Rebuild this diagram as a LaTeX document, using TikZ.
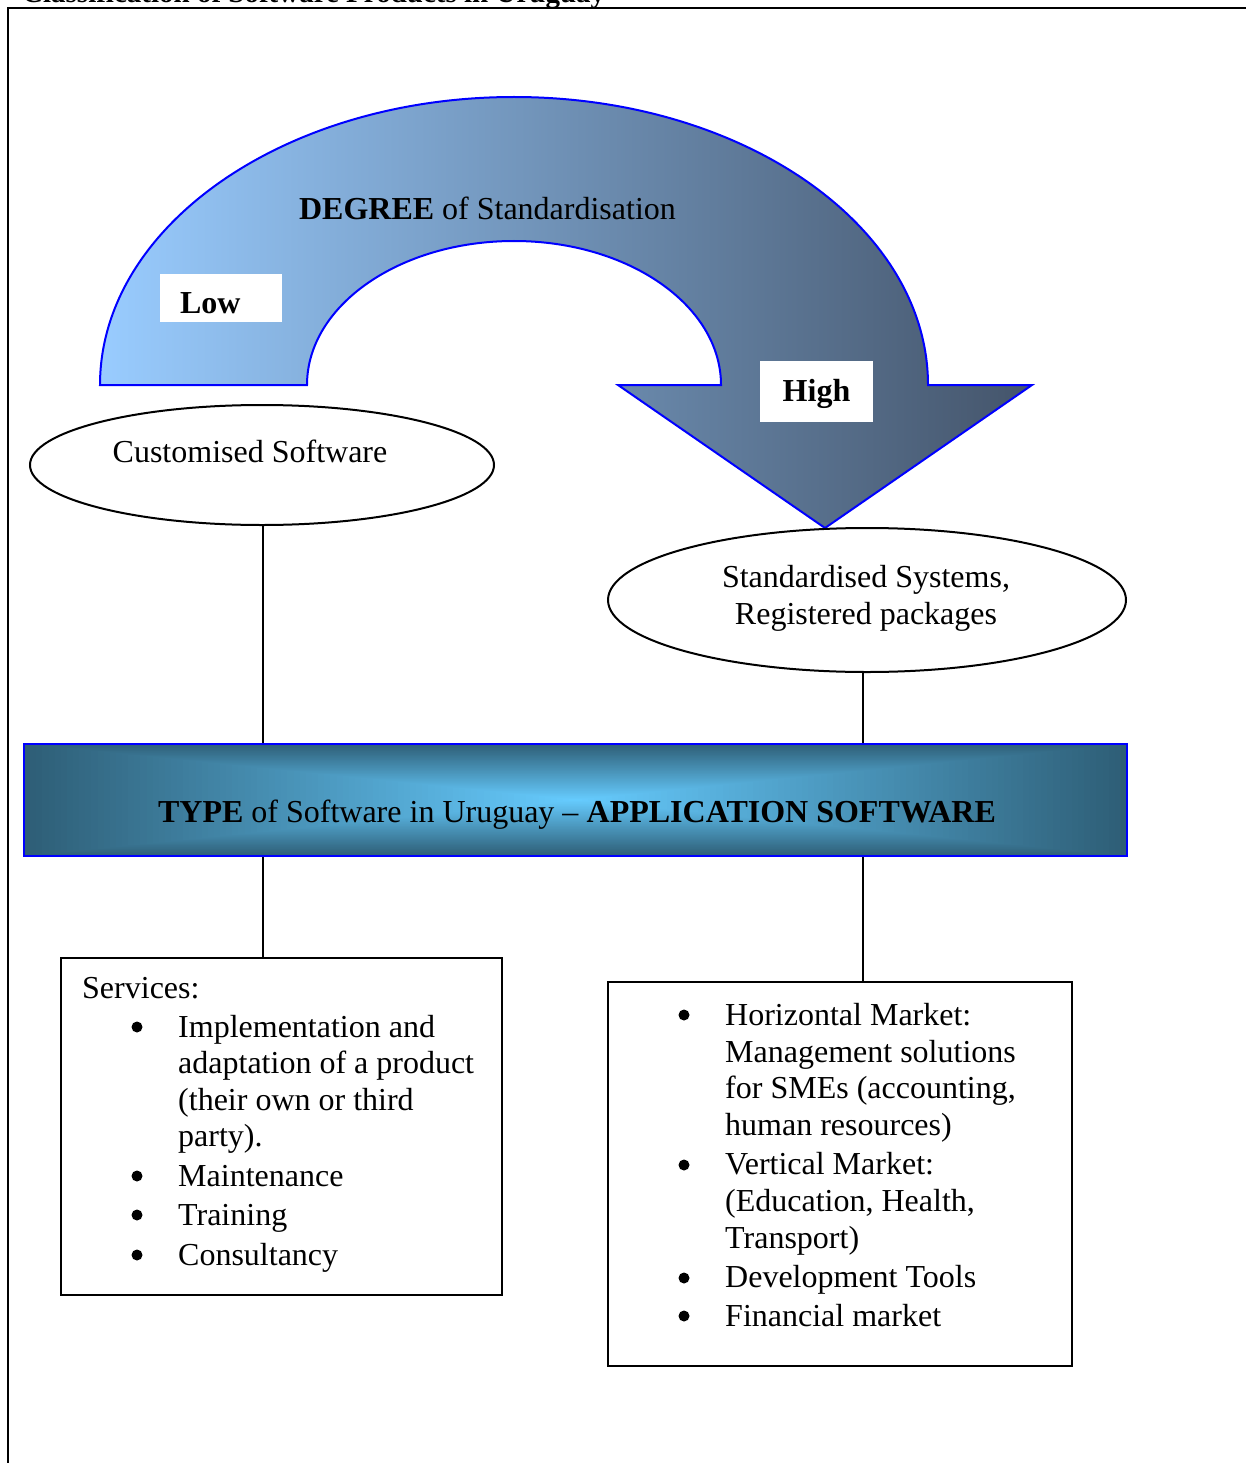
\documentclass[tikz,border=0pt]{standalone}
\usepackage{fontspec}
\setmainfont{Liberation Serif}
\usetikzlibrary{shapes.geometric}

\definecolor{arrowlight}{RGB}{153,204,255}
\definecolor{arrowdark}{RGB}{68,84,106}
\definecolor{bannerlight}{RGB}{102,204,255}
\definecolor{bannerdark}{RGB}{46,94,118}
\definecolor{edgeblue}{RGB}{0,0,255}

\begin{document}
\begin{tikzpicture}[x=1pt,y=-1pt,
  txt/.style={font=\fontsize{32}{37}\selectfont, inner sep=0pt},
  outline/.style={draw=black, line width=2pt, inner sep=0pt},
  link/.style={draw=black, line width=1.5pt},
  dot/.style={circle, fill=black, inner sep=0pt, minimum size=11pt},
  tag/.style={fill=white, inner sep=0pt, font=\fontsize{32}{37}\selectfont\bfseries},
]
\useasboundingbox (0,0) rectangle (1245,1463);

% page frame and heading
\draw[line width=2pt] (7.5,1470) -- (7.5,8) -- (1250,8);
\node[anchor=base west, inner sep=0pt, font=\fontsize{29}{34}\selectfont\bfseries] (title) at (22,3)
  {Classification of Software Products in Uruguay};

% curved arrow: degree of standardisation
\path[draw=edgeblue, line width=2pt, left color=arrowlight, right color=arrowdark, line join=miter]
  (100,385) arc[start angle=180, end angle=360, x radius=414, y radius=288]
  -- (1032,385) -- (825,528) -- (618,385) -- (721,385)
  arc[start angle=360, end angle=180, x radius=207, y radius=144] -- cycle;

\node[txt, anchor=base] (degree) at (487.5,220) {\textbf{DEGREE} of Standardisation};
\node[tag, minimum width=122pt, minimum height=48pt, text width=82pt, align=left,
      text height=30pt, text depth=0pt] (low) at (221,298) {Low};
\node[tag, minimum width=113pt, minimum height=61pt, text height=22pt, text depth=3pt]
      (high) at (816.5,391.5) {High};

% the two ends of the scale
\node[outline, ellipse, minimum width=464pt, minimum height=120pt] (cust) at (262,465) {};
\node[txt, anchor=base] (custtext) at (250,462) {Customised Software};
\node[outline, ellipse, minimum width=518pt, minimum height=144pt] (std) at (867,600) {};
\node[txt, anchor=base] (stdtext1) at (866,587) {Standardised Systems,};
\node[txt, anchor=base] (stdtext2) at (866,624) {Registered packages};

% banner with a gradient from the centre outwards
\foreach \i in {0,...,90} {
  \pgfmathsetmacro\s{1-\i/90}
  \pgfmathsetmacro\p{100*\i/90}
  \fill[bannerlight!\p!bannerdark] (575.5-551.5*\s, 800-56*\s) rectangle (575.5+551.5*\s, 800+56*\s);
}
\node[draw=edgeblue, line width=2pt, minimum width=1103pt, minimum height=112pt, inner sep=0pt]
  (banner) at (575.5,800) {};
\node[txt, anchor=base] (bannertext) at (577,822)
  {\textbf{TYPE} of Software in Uruguay \textendash{} \textbf{APPLICATION SOFTWARE}};

% lists of products and services
\node[outline, minimum width=441pt, minimum height=337pt] (svc) at (281.5,1126.5) {};
\node[outline, minimum width=464pt, minimum height=384pt] (mkt) at (840,1174) {};

% connectors
\coordinate (lx) at (263,0);
\coordinate (rx) at (863,0);
\draw[link] (lx |- cust.south) -- (lx |- banner.north);
\draw[link] (lx |- banner.south) -- (lx |- svc.north);
\draw[link] (rx |- std.south) -- (rx |- banner.north);
\draw[link] (rx |- banner.south) -- (rx |- mkt.north);

% services list
\node[txt, anchor=base west] (svchead) at (82,998) {Services:};
\foreach \y [count=\k] in {1027,1176,1215,1255}
  \node[dot] (svcdot\k) at (137,\y) {};
\foreach \y/\t [count=\k] in {1037/Implementation and, 1073/adaptation of a product,
    1110/(their own or third, 1146/party)., 1186/Maintenance, 1225/Training, 1265/Consultancy}
  \node[txt, anchor=base west] (svcline\k) at (178,\y) {\t};

% market list
\foreach \y [count=\k] in {1015,1165,1278,1316}
  \node[dot] (mktdot\k) at (684,\y) {};
\foreach \y/\t [count=\k] in {1025/Horizontal Market:, 1062/Management solutions,
    1098/{for SMEs (accounting,}, 1135/human resources), 1174/Vertical Market:,
    1211/{(Education, Health,}, 1248/Transport), 1287/Development Tools, 1326/Financial market}
  \node[txt, anchor=base west] (mktline\k) at (725,\y) {\t};
\end{tikzpicture}
\end{document}
